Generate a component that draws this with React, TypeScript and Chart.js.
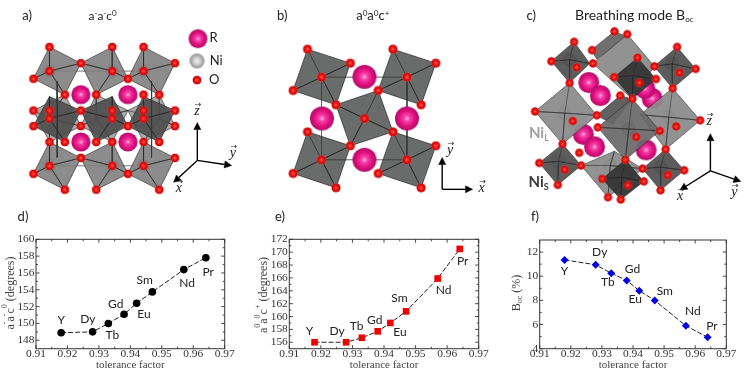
import { useEffect, useRef } from "react";
import { Chart, registerables } from "chart.js";

Chart.register(...registerables);

// ---- Data for the three line panels ----
const elements = ["Y", "Dy", "Tb", "Gd", "Eu", "Sm", "Nd", "Pr"];
const tolerance = [0.918, 0.928, 0.933, 0.938, 0.942, 0.947, 0.957, 0.964];
const angleMinus = [148.9, 149.0, 150.0, 151.1, 152.4, 153.75, 156.4, 157.8];
const anglePlus = [156.0, 156.0, 156.7, 157.7, 159.0, 160.8, 165.9, 170.5];
const breathing = [11.35, 10.95, 10.25, 9.65, 8.8, 8.0, 5.9, 4.95];
const xTicks = [0.91, 0.92, 0.93, 0.94, 0.95, 0.96, 0.97];
const yTicksD = [148, 150, 152, 154, 156, 158, 160];
const yTicksE = [156, 158, 160, 162, 164, 166, 168, 170, 172];
const yTicksF = [4, 6, 8, 10, 12];

// Element label offsets from their marker, in page pixels
const offsetsD = [[0, -12.3], [-4.7, -12.7], [4, 11.3], [-8.3, -10.3], [7.3, 10.7], [-7.7, -11.7], [3.3, 13.3], [2.3, 14]];
const offsetsE = [[-5, -11], [-9, -11], [-5.3, -11.7], [-3, -11], [9.7, 9], [-6.7, -13], [6, 11.3], [3, 11.7]];
const offsetsF = [[0, 10.7], [4, -12.3], [-3.3, 9], [5.7, -11.7], [-4, 8.3], [10, -9.7], [7, -14.3], [4.3, -11]];

// ---- Crystal illustration geometry (units: 1/3 of a page pixel, local to each panel) ----
type P = number[];
type Octa = { v: P[]; c: P; fill: string };
const LIGHT = "rgba(128,128,128,0.9)";
const MID = "rgba(104,104,104,0.92)";
const DARK = "rgba(78,78,78,0.92)";
const FLAT = "#6a6c6c";
const BACK = "rgba(165,165,165,0.95)";
const BIG = "rgba(140,140,140,0.95)";
const INK = "rgba(55,55,55,0.97)";

const octaABack: Octa[] = [
  { v: [[89, 332], [187, 282], [237, 381], [139, 431]], c: [139, 357], fill: BACK },
  { v: [[285, 282], [384, 332], [335, 431], [237, 381]], c: [285, 357], fill: BACK },
  { v: [[384, 332], [482, 282], [531, 381], [433, 431]], c: [482, 357], fill: BACK },
];
const octaA: Octa[] = [
  { v: [[139, 132], [237, 183], [187, 282], [89, 232]], c: [139, 208], fill: LIGHT },
  { v: [[335, 132], [384, 232], [285, 282], [237, 183]], c: [335, 208], fill: LIGHT },
  { v: [[433, 132], [531, 183], [482, 282], [384, 232]], c: [433, 208], fill: LIGHT },
  { v: [[139, 288], [237, 332], [187, 431], [89, 381]], c: [139, 357], fill: DARK },
  { v: [[335, 288], [384, 381], [285, 431], [237, 332]], c: [335, 357], fill: DARK },
  { v: [[433, 288], [531, 332], [482, 431], [384, 381]], c: [433, 357], fill: DARK },
  { v: [[139, 431], [237, 481], [187, 581], [89, 531]], c: [139, 506], fill: LIGHT },
  { v: [[335, 431], [384, 531], [285, 581], [237, 481]], c: [335, 506], fill: LIGHT },
  { v: [[433, 431], [531, 481], [482, 581], [384, 531]], c: [433, 506], fill: LIGHT },
];
const oxygenA: P[] = [
  [139, 132], [335, 132], [433, 132], [237, 183], [531, 183], [139, 208], [335, 208], [433, 208], [89, 232], [384, 232],
  [187, 282], [285, 282], [433, 282], [482, 282], [89, 332], [139, 332], [237, 332], [335, 332], [433, 332], [531, 332],
  [139, 357], [335, 357], [433, 357], [89, 381], [237, 381], [384, 381], [531, 381], [139, 431], [187, 431], [285, 431],
  [335, 431], [433, 431], [482, 431], [237, 481], [531, 481], [139, 506], [335, 506], [433, 506], [89, 531], [384, 531],
  [187, 581], [285, 581], [482, 581],
];
const rareA: P[] = [[237, 282], [384, 282], [237, 431], [384, 431]];
const cellLinesA: P[][] = [[[163, 240], [163, 480]], [[458, 240], [458, 480]], [[139, 208], [433, 208]], [[139, 506], [433, 506]]];

const octaB: Octa[] = [
  { v: [[164, 139], [298, 183], [253, 314], [119, 269]], c: [208, 227], fill: FLAT },
  { v: [[431, 139], [565, 183], [519, 314], [385, 269]], c: [475, 227], fill: FLAT },
  { v: [[385, 269], [431, 399], [298, 443], [253, 314]], c: [342, 357], fill: FLAT },
  { v: [[164, 399], [298, 443], [253, 575], [119, 530]], c: [208, 487], fill: FLAT },
  { v: [[431, 399], [565, 443], [519, 575], [385, 530]], c: [475, 487], fill: FLAT },
];
const oxygenB: P[] = [
  [164, 139], [298, 183], [253, 314], [119, 269], [208, 227], [431, 139], [565, 183], [519, 314], [385, 269], [475, 227],
  [431, 399], [298, 443], [342, 357], [164, 399], [253, 575], [119, 530], [208, 487], [565, 443], [385, 530], [519, 575], [475, 487],
];
const rareB: P[] = [[342, 226], [209, 357], [475, 357], [342, 487]];
const cellLinesB: P[][] = [[[208, 227], [475, 227]], [[475, 227], [475, 487]], [[475, 487], [208, 487]], [[208, 487], [208, 227]]];

const octaCBack: Octa[] = [
  { v: [[345, 83], [385, 100], [290, 170], [272, 142]], c: [320, 125], fill: "rgba(95,95,95,0.9)" },
  { v: [[385, 92], [470, 193], [400, 295], [278, 184]], c: [370, 185], fill: BIG },
  { v: [[363, 285], [400, 296], [340, 375], [290, 347]], c: [340, 330], fill: "rgba(80,80,80,0.9)" },
];
const rareCBack: P[] = [[265, 244], [301, 285], [463, 294], [440, 262], [248, 407], [283, 446], [444, 456]];
const octaC: Octa[] = [
  { v: [[205, 245], [290, 347], [183, 437], [97, 335]], c: [190, 340], fill: BIG },
  { v: [[527, 262], [613, 363], [505, 454], [425, 345]], c: [515, 353], fill: BIG },
  { v: [[241, 505], [345, 460], [433, 515], [325, 605]], c: [332, 505], fill: BIG },
  { v: [[219, 116], [268, 184], [205, 245], [148, 177]], c: [205, 172], fill: DARK },
  { v: [[541, 132], [599, 201], [527, 262], [469, 193]], c: [525, 185], fill: DARK },
  { v: [[417, 166], [475, 233], [401, 295], [344, 227]], c: [403, 222], fill: INK },
  { v: [[401, 295], [487, 396], [379, 487], [293, 385]], c: [390, 390], fill: MID },
  { v: [[183, 437], [241, 505], [168, 566], [110, 497]], c: [170, 492], fill: DARK },
  { v: [[505, 454], [563, 520], [489, 583], [433, 515]], c: [490, 510], fill: DARK },
  { v: [[379, 487], [437, 555], [365, 612], [307, 547]], c: [368, 542], fill: INK },
];
const oxygenC: P[] = [
  [345, 83], [385, 92], [219, 116], [541, 132], [275, 142], [148, 177], [278, 184], [470, 193], [599, 201], [227, 196],
  [548, 213], [417, 166], [344, 227], [475, 233], [423, 245], [205, 245], [527, 262], [363, 285], [401, 295], [97, 335],
  [290, 347], [215, 365], [613, 363], [538, 382], [293, 385], [487, 396], [413, 415], [183, 437], [505, 454], [235, 465],
  [379, 487], [110, 497], [190, 518], [241, 505], [433, 515], [563, 520], [512, 535], [307, 547], [387, 567], [437, 555],
  [168, 566], [489, 583], [325, 605], [365, 612],
];

// legend atoms in panel a
const legendR: P[] = [[603, 106]];
const legendNi: P[] = [[600, 176]];
const legendO: P[] = [[600, 236]];

const arrowsA: P[][] = [[[601, 489], [601, 370]], [[601, 489], [708, 505]], [[601, 489], [527, 558]]];
const arrowsB: P[][] = [[[585, 580], [585, 480]], [[585, 580], [680, 580]]];
const arrowsC: P[][] = [[[645, 522], [645, 405]], [[645, 522], [550, 582]], [[645, 522], [740, 555]]];

// ---- Text helpers ----
const SERIF = "'Liberation Serif', serif";
const SANS = "Lato, 'Open Sans', sans-serif";
type Run = { t: string; size?: number; dy?: number };

function drawRuns(ctx: CanvasRenderingContext2D, runs: Run[], x: number, y: number, size: number, family: string, color: string, rotate = false, style = "") {
  ctx.save();
  ctx.translate(x, y);
  if (rotate) ctx.rotate(-Math.PI / 2);
  ctx.fillStyle = color;
  ctx.textBaseline = "alphabetic";
  ctx.textAlign = "left";
  const fontOf = (r: Run) => `${style} ${r.size ?? size}px ${family}`;
  let w = 0;
  for (const r of runs) {
    ctx.font = fontOf(r);
    w += ctx.measureText(r.t).width;
  }
  let cx = -w / 2;
  for (const r of runs) {
    ctx.font = fontOf(r);
    ctx.fillText(r.t, cx, r.dy ?? 0);
    cx += ctx.measureText(r.t).width;
  }
  ctx.restore();
}

// ---- Sphere sprites ----
function sphere(r: number, stops: [number, string][]) {
  const c = document.createElement("canvas");
  c.width = c.height = Math.ceil(r * 2 + 2);
  const g = c.getContext("2d")!;
  const m = c.width / 2;
  const grad = g.createRadialGradient(m, m, 0, m, m, r);
  stops.forEach(([o, col]) => grad.addColorStop(o, col));
  g.fillStyle = grad;
  g.beginPath();
  g.arc(m, m, r, 0, Math.PI * 2);
  g.fill();
  return c;
}
const RSTOPS: [number, string][] = [[0, "#ffb8e0"], [0.25, "#f840a8"], [0.65, "#e0107f"], [1, "#b00c68"]];
const OSTOPS: [number, string][] = [[0, "#ff5a4a"], [0.5, "#e81010"], [0.85, "#c80808"], [1, "rgba(230,90,80,0.7)"]];
const NISTOPS: [number, string][] = [[0, "#f4f4f4"], [0.55, "#c4c4c4"], [1, "#8c8c8c"]];
const NIFAINT: [number, string][] = [[0, "#e4e4e4"], [0.6, "#b0b0b0"], [1, "#808080"]];

function xy(p: P) {
  return { x: p[0], y: p[1] };
}
const LINEC = "rgba(35,35,35,0.85)";

function octaSets(o: Octa, niSprite: HTMLCanvasElement | null, lw = 0.7, spokes = true) {
  const sets: any[] = [];
  if (niSprite) sets.push(atomSet([o.c], niSprite));
  sets.push({
    data: [...o.v, o.v[0]].map(xy),
    showLine: true,
    fill: "shape",
    backgroundColor: o.fill,
    borderColor: LINEC,
    borderWidth: lw,
    pointRadius: 0,
    tension: 0,
    clip: false,
  });
  if (spokes) {
    const star: P[] = [];
    o.v.forEach((p) => star.push(p, o.c));
    sets.push({ data: star.map(xy), showLine: true, fill: false, borderColor: LINEC, borderWidth: lw, pointRadius: 0, tension: 0, clip: false });
  }
  return sets;
}
function atomSet(list: P[], sprite: HTMLCanvasElement) {
  return { data: list.map(xy), showLine: false, pointStyle: sprite, pointRadius: 5, pointBorderWidth: 0, clip: false };
}
function lineSets(list: P[][], color = "#555", w = 0.8) {
  return list.map((seg) => ({ data: seg.map(xy), showLine: true, fill: false, borderColor: color, borderWidth: w, pointRadius: 0, tension: 0, clip: false }));
}
function arrowSets(list: P[][]) {
  const out: any[] = [];
  for (const [a, b] of list) {
    const dx = b[0] - a[0];
    const dy = b[1] - a[1];
    const len = Math.hypot(dx, dy);
    const ux = dx / len;
    const uy = dy / len;
    const base = [b[0] - ux * 22, b[1] - uy * 22];
    const head = [b, [base[0] - uy * 11, base[1] + ux * 11], [base[0] + uy * 11, base[1] - ux * 11], b];
    out.push({ data: [a, base].map(xy), showLine: true, fill: false, borderColor: "#000", borderWidth: 1.4, pointRadius: 0, tension: 0, clip: false });
    out.push({ data: head.map(xy), showLine: true, fill: "shape", backgroundColor: "#000", borderColor: "#000", borderWidth: 0.5, pointRadius: 0, tension: 0, clip: false });
  }
  return out;
}

type Note = { runs: Run[]; x: number; y: number; size: number; family: string; color: string; vec?: boolean; style?: string };

function IllustrationCanvas({ left, build, notes }: { left: number; build: () => any[]; notes: Note[] }) {
  const ref = useRef<HTMLCanvasElement>(null);
  useEffect(() => {
    const sets = build();
    sets.forEach((s, i) => (s.order = -i));
    const chart = new Chart(ref.current!, {
      type: "scatter",
      data: { datasets: sets },
      options: {
        animation: false,
        responsive: false,
        events: [],
        layout: { padding: 0 },
        plugins: { legend: { display: false }, tooltip: { enabled: false }, title: { display: false } },
        scales: {
          x: { type: "linear", min: 0, max: 750, display: false },
          y: { type: "linear", min: 0, max: 645, reverse: true, display: false },
        },
      },
      plugins: [
        {
          id: "notes",
          afterDraw(c: any) {
            const g = c.ctx;
            const sx = c.scales.x;
            const sy = c.scales.y;
            for (const n of notes) {
              const px = sx.getPixelForValue(n.x);
              const py = sy.getPixelForValue(n.y);
              drawRuns(g, n.runs, px, py, n.size, n.family, n.color, false, n.style ?? "");
              if (n.vec) drawRuns(g, [{ t: "→" }], px + 1, py - 8, 8, "'DejaVu Sans'", "#222");
            }
          },
        },
      ],
    } as any);
    return () => chart.destroy();
  }, []);
  return <canvas ref={ref} width={250} height={215} style={{ position: "absolute", left, top: 0, width: 250, height: 215 }} />;
}

const buildA = () => {
  const o = sphere(4.6, OSTOPS);
  const r = sphere(9.6, RSTOPS);
  const ni = sphere(6.5, NIFAINT);
  const out: any[] = [...lineSets(cellLinesA)];
  octaABack.forEach((v) => out.push(...octaSets(v, null)));
  octaA.forEach((v) => out.push(...octaSets(v, ni)));
  out.push(...lineSets(cellLinesA.slice(0, 2), "#333", 0.8));
  out.push(atomSet(rareA, r));
  out.push(atomSet(oxygenA, o));
  out.push(atomSet(legendR, sphere(9.4, RSTOPS)));
  out.push(atomSet(legendNi, sphere(7.5, NISTOPS)));
  out.push(atomSet(legendO, sphere(4.6, OSTOPS)));
  out.push(...arrowSets(arrowsA));
  return out;
};
const buildB = () => {
  const o = sphere(4.8, OSTOPS);
  const r = sphere(12, RSTOPS);
  const out: any[] = [];
  octaB.forEach((v) => out.push(...octaSets(v, null, 0.8)));
  out.push(...lineSets(cellLinesB, "#333", 0.8));
  out.push(atomSet(rareB, r));
  out.push(atomSet(oxygenB, o));
  out.push(...arrowSets(arrowsB));
  return out;
};
const buildC = () => {
  const o = sphere(4.4, OSTOPS);
  const r = sphere(10.5, RSTOPS);
  const ni = sphere(7, NIFAINT);
  const out: any[] = [];
  octaCBack.forEach((v) => out.push(...octaSets(v, null, 0.6, false)));
  out.push(atomSet(rareCBack, r));
  octaC.forEach((v) => out.push(...octaSets(v, ni, 0.6)));
  out.push(atomSet(oxygenC, o));
  out.push(...arrowSets(arrowsC));
  return out;
};

const notesA: Note[] = [
  { runs: [{ t: "a)" }], x: 69, y: 48, size: 13, family: SANS, color: "#222" },
  { runs: [{ t: "a" }, { t: "-", size: 8, dy: -4 }, { t: "a" }, { t: "-", size: 8, dy: -4 }, { t: "c" }, { t: "0", size: 8, dy: -4 }], x: 305, y: 47, size: 12, family: SANS, color: "#222" },
  { runs: [{ t: "R" }], x: 652, y: 116, size: 13, family: SANS, color: "#222" },
  { runs: [{ t: "Ni" }], x: 660, y: 188, size: 13, family: SANS, color: "#222" },
  { runs: [{ t: "O" }], x: 654, y: 248, size: 13, family: SANS, color: "#222" },
  { runs: [{ t: "z" }], x: 600, y: 345, size: 14, family: SERIF, color: "#222", vec: true, style: "italic" },
  { runs: [{ t: "y" }], x: 712, y: 478, size: 14, family: SERIF, color: "#222", vec: true, style: "italic" },
  { runs: [{ t: "x" }], x: 543, y: 587, size: 14, family: SERIF, color: "#222", vec: true, style: "italic" },
];
const notesB: Note[] = [
  { runs: [{ t: "b)" }], x: 85, y: 48, size: 13, family: SANS, color: "#222" },
  { runs: [{ t: "a" }, { t: "0", size: 8, dy: -4 }, { t: "a" }, { t: "0", size: 8, dy: -4 }, { t: "c" }, { t: "+", size: 8, dy: -4 }], x: 368, y: 47, size: 13, family: SANS, color: "#222" },
  { runs: [{ t: "y" }], x: 610, y: 468, size: 14, family: SERIF, color: "#222", vec: true, style: "italic" },
  { runs: [{ t: "x" }], x: 708, y: 588, size: 14, family: SERIF, color: "#222", vec: true, style: "italic" },
];
const notesC: Note[] = [
  { runs: [{ t: "c)" }], x: 85, y: 48, size: 13, family: SANS, color: "#222" },
  { runs: [{ t: "Breathing mode B" }, { t: "oc", size: 8, dy: 2 }], x: 407, y: 48, size: 14, family: SANS, color: "#222" },
  { runs: [{ t: "z" }], x: 641, y: 377, size: 14, family: SERIF, color: "#222", vec: true, style: "italic" },
  { runs: [{ t: "y" }], x: 720, y: 600, size: 14, family: SERIF, color: "#222", vec: true, style: "italic" },
  { runs: [{ t: "x" }], x: 550, y: 612, size: 14, family: SERIF, color: "#222", vec: true, style: "italic" },
  { runs: [{ t: "Ni" }, { t: "L", size: 9, dy: 3 }], x: 109, y: 417, size: 15, family: SANS, color: "#a0a0a0", style: "bold" },
  { runs: [{ t: "Ni" }, { t: "S", size: 9, dy: 3 }], x: 108, y: 573, size: 15, family: SANS, color: "#3a3a3a", style: "bold" },
];

// ---- Line panels ----
type PanelProps = {
  left: number;
  plot: [number, number, number, number];
  values: number[];
  yMin: number;
  yMax: number;
  yTicks: number[];
  color: string;
  pointStyle: string;
  radius: number;
  offsets: number[][];
  panelLabel: string;
  panelLabelPos: number[];
  yTitle: Run[];
  yTitlePos: number[];
};

function Panel(p: PanelProps) {
  const ref = useRef<HTMLCanvasElement>(null);
  useEffect(() => {
    const yW = 24;
    const xH = 24;
    const [pl, pt, pr, pb] = p.plot;
    const frame = {
      id: "frame",
      afterDatasetsDraw(c: any) {
        const g = c.ctx;
        const a = c.chartArea;
        const sx = c.scales.x;
        const sy = c.scales.y;
        g.save();
        g.strokeStyle = "#333";
        g.lineWidth = 1;
        g.strokeRect(a.left, a.top, a.right - a.left, a.bottom - a.top);
        g.lineWidth = 0.9;
        const tick = (x1: number, y1: number, x2: number, y2: number) => {
          g.beginPath();
          g.moveTo(x1, y1);
          g.lineTo(x2, y2);
          g.stroke();
        };
        xTicks.forEach((v, i) => {
          const x = sx.getPixelForValue(v);
          tick(x, a.bottom, x, a.bottom - 3.5);
          tick(x, a.top, x, a.top + 3.5);
          if (i < xTicks.length - 1) {
            const m = sx.getPixelForValue((v + xTicks[i + 1]) / 2);
            tick(m, a.bottom, m, a.bottom - 2);
            tick(m, a.top, m, a.top + 2);
          }
        });
        p.yTicks.forEach((v, i) => {
          const y = sy.getPixelForValue(v);
          tick(a.left, y, a.left + 3.5, y);
          tick(a.right, y, a.right - 3.5, y);
          const next = i < p.yTicks.length - 1 ? p.yTicks[i + 1] : v + 2;
          if (next <= p.yMax) {
            const m = sy.getPixelForValue((v + next) / 2);
            tick(a.left, m, a.left + 2, m);
            tick(a.right, m, a.right - 2, m);
          }
        });
        g.restore();
        const meta = c.getDatasetMeta(0);
        elements.forEach((name, i) => {
          const el = meta.data[i];
          g.save();
          g.font = `12px ${SANS}`;
          g.fillStyle = "#222";
          g.textAlign = "center";
          g.textBaseline = "middle";
          g.fillText(name, el.x + p.offsets[i][0], el.y + p.offsets[i][1]);
          g.restore();
        });
        drawRuns(g, [{ t: p.panelLabel }], p.panelLabelPos[0], p.panelLabelPos[1], 13, SANS, "#222");
        drawRuns(g, p.yTitle, p.yTitlePos[0], p.yTitlePos[1], 12, SERIF, "#444", true);
      },
    };
    const chart = new Chart(ref.current!, {
      type: "scatter",
      data: {
        datasets: [
          {
            data: tolerance.map((x, i) => ({ x, y: p.values[i] })),
            showLine: true,
            borderColor: "#222",
            borderWidth: 1,
            borderDash: [5, 2],
            tension: 0,
            pointStyle: p.pointStyle,
            pointRadius: p.radius,
            pointBackgroundColor: p.color,
            pointBorderColor: p.color,
            pointBorderWidth: 0,
            clip: false,
          },
        ],
      },
      options: {
        animation: false,
        responsive: false,
        events: [],
        layout: { padding: { left: pl - p.left - yW, top: pt - 205, right: p.left + 250 - pr, bottom: 374 - pb - xH } },
        plugins: { legend: { display: false }, tooltip: { enabled: false } },
        scales: {
          x: {
            type: "linear",
            min: 0.91,
            max: 0.97,
            afterBuildTicks: (s: any) => {
              s.ticks = xTicks.map((value) => ({ value }));
            },
            afterFit: (s: any) => {
              s.height = xH;
            },
            grid: { display: false, drawTicks: false },
            border: { display: false },
            title: { display: true, text: "tolerance factor", color: "#444", font: { family: SERIF, size: 11 }, padding: { top: 0, bottom: 1 } },
            ticks: {
              autoSkip: false,
              maxRotation: 0,
              minRotation: 0,
              padding: -1.5,
              color: "#333",
              font: { family: SERIF, size: 11.4 },
              callback: (v: any) => Number(v).toFixed(2),
            },
          },
          y: {
            type: "linear",
            min: p.yMin,
            max: p.yMax,
            afterBuildTicks: (s: any) => {
              s.ticks = p.yTicks.map((value) => ({ value }));
            },
            afterFit: (s: any) => {
              s.width = yW;
            },
            grid: { display: false, drawTicks: false },
            border: { display: false },
            ticks: { autoSkip: false, padding: 1.5, color: "#333", font: { family: SERIF, size: 11.4 } },
          },
        },
      },
      plugins: [frame],
    } as any);
    return () => chart.destroy();
  }, []);
  return <canvas ref={ref} width={250} height={169} style={{ position: "absolute", left: p.left, top: 205, width: 250, height: 169 }} />;
}

export default function App() {
  return (
    <div style={{ position: "fixed", left: 0, top: 0, width: 749, height: 374, background: "#fff", overflow: "hidden" }}>
      <IllustrationCanvas left={0} build={buildA} notes={notesA} />
      <IllustrationCanvas left={250} build={buildB} notes={notesB} />
      <IllustrationCanvas left={499} build={buildC} notes={notesC} />
      <Panel
        left={0}
        plot={[36, 239.3, 224.7, 348.7]}
        values={angleMinus}
        yMin={147}
        yMax={160}
        yTicks={yTicksD}
        color="#000"
        pointStyle="circle"
        radius={3.8}
        offsets={offsetsD}
        panelLabel="d)"
        panelLabelPos={[23, 16]}
        yTitle={[
          { t: "a" }, { t: "-", size: 8, dy: -7 }, { t: "a" }, { t: "-", size: 8, dy: -7 }, { t: "c" }, { t: "0", size: 8, dy: -7 }, { t: " (degrees)" },
        ]}
        yTitlePos={[14, 88]}
      />
      <Panel
        left={250}
        plot={[289.3, 239.3, 478.7, 348.7]}
        values={anglePlus}
        yMin={155}
        yMax={172}
        yTicks={yTicksE}
        color="#f00000"
        pointStyle="rect"
        radius={4.7}
        offsets={offsetsE}
        panelLabel="e)"
        panelLabelPos={[30, 16]}
        yTitle={[
          { t: "a" }, { t: "0", size: 8, dy: -7 }, { t: "a" }, { t: "0", size: 8, dy: -7 }, { t: "c" }, { t: "+", size: 8, dy: -7 }, { t: " (degrees)" },
        ]}
        yTitlePos={[17, 90]}
      />
      <Panel
        left={499}
        plot={[539.7, 240, 726.3, 348.7]}
        values={breathing}
        yMin={4}
        yMax={13}
        yTicks={yTicksF}
        color="#0000e0"
        pointStyle="rectRot"
        radius={4}
        offsets={offsetsF}
        panelLabel="f)"
        panelLabelPos={[36, 16]}
        yTitle={[{ t: "B" }, { t: "oc", size: 8, dy: 2 }, { t: " (%)" }]}
        yTitlePos={[21, 88]}
      />
    </div>
  );
}
